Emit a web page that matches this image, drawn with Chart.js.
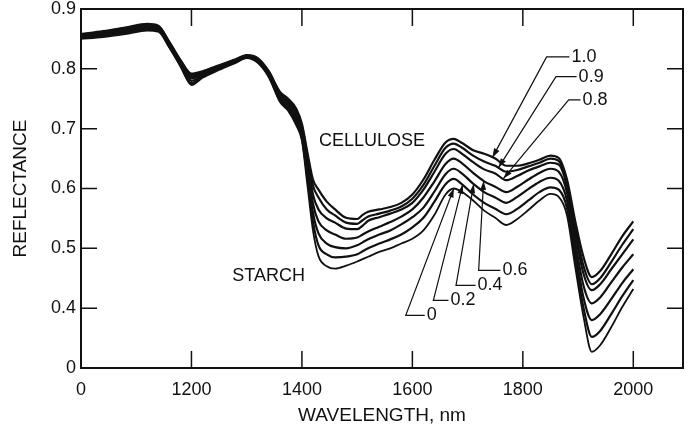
<!DOCTYPE html>
<html lang="en">
<head>
<meta charset="UTF-8">
<title>Reflectance of cellulose / starch mixtures</title>
<script src="https://cdn.jsdelivr.net/npm/chart.js"></script>
<style>
    html, body { margin: 0; padding: 0; background: #fff; }
</style>
</head>
<body>
<canvas id="chart" width="693" height="427"></canvas>
<script>
    // wavelength (nm) and reflectance for each cellulose fraction
    const wavelength = [1000,1040,1080,1120,1140,1160,1180,1200,1220,1250,1280,1300,1320,1340,1360,1375,1390,1400,1410,1420,
        1430,1445,1460,1480,1500,1510,1520,1540,1560,1580,1600,1620,1640,1660,1675,1690,1710,1730,1750,1770,
        1790,1810,1830,1850,1865,1880,1895,1910,1925,1940,1960,1980,2000];

    const r100 = [.858,.863,.869,.875,.872,.845,.815,.792,.796,.806,.816,.823,.818,.796,.762,.750,.733,.708,.660,.615,
        .598,.578,.565,.551,.549,.556,.561,.565,.569,.576,.590,.615,.648,.677,.683,.676,.664,.658,.650,.638,
        .638,.642,.648,.655,.651,.615,.545,.485,.452,.462,.490,.520,.545];
    const r90 = [.857,.862,.868,.874,.871,.844,.814,.790,.795,.805,.815,.822,.817,.795,.760,.747,.729,.704,.655,.605,
        .585,.565,.555,.543,.541,.547,.553,.558,.563,.570,.583,.606,.638,.668,.675,.668,.655,.645,.638,.628,
        .631,.637,.643,.650,.646,.610,.535,.470,.440,.450,.477,.506,.532];
    const r80 = [.856,.861,.866,.872,.870,.843,.812,.787,.793,.804,.814,.822,.816,.794,.757,.744,.724,.699,.648,.590,
        .565,.550,.543,.533,.532,.538,.546,.552,.558,.565,.576,.598,.628,.658,.666,.658,.644,.632,.625,.614,
        .621,.630,.637,.643,.640,.603,.525,.457,.430,.440,.465,.490,.515];
    const r60 = [.855,.859,.864,.870,.868,.841,.810,.784,.791,.803,.813,.821,.815,.792,.754,.740,.719,.694,.640,.575,
        .545,.530,.523,.516,.518,.523,.528,.536,.544,.553,.565,.585,.612,.641,.650,.642,.626,.612,.603,.594,
        .603,.615,.626,.633,.628,.593,.510,.437,.408,.418,.443,.468,.490];
    const r40 = [.853,.857,.862,.868,.866,.839,.808,.780,.789,.801,.812,.820,.813,.790,.751,.736,.714,.689,.630,.560,
        .525,.508,.502,.500,.505,.510,.515,.523,.530,.540,.552,.568,.595,.624,.633,.625,.608,.594,.585,.576,
        .586,.599,.611,.618,.613,.580,.495,.417,.380,.390,.415,.442,.465];
    const r20 = [.852,.855,.860,.866,.864,.837,.806,.776,.787,.800,.811,.819,.812,.788,.748,.733,.709,.684,.618,.545,
        .505,.490,.485,.486,.490,.495,.500,.508,.515,.523,.535,.551,.578,.607,.616,.607,.590,.576,.566,.557,
        .566,.580,.594,.602,.598,.567,.480,.400,.352,.362,.390,.420,.447];
    const r0 = [.850,.853,.858,.864,.862,.835,.804,.773,.785,.798,.810,.818,.810,.786,.745,.730,.705,.680,.605,.530,
        .487,.470,.466,.471,.478,.482,.486,.494,.500,.508,.516,.530,.556,.590,.600,.594,.580,.563,.551,.539,
        .549,.564,.580,.591,.586,.555,.468,.385,.327,.338,.368,.402,.432];

    const curveNames = ['1.0', '0.9', '0.8', '0.6', '0.4', '0.2', '0'];
    const curves = [r100, r90, r80, r60, r40, r20, r0];

    // axis ticks (broken axes: origin labelled 0)
    const xTickValues = [1000, 1200, 1400, 1600, 1800, 2000];
    const xTickLabels = ['0', '1200', '1400', '1600', '1800', '2000'];
    const yTickValues = [0.3, 0.4, 0.5, 0.6, 0.7, 0.8, 0.9];
    const yTickLabels = ['0', '0.4', '0.5', '0.6', '0.7', '0.8', '0.9'];
    const xMarks = [1200, 1400, 1600, 1800, 2000];
    const yMarks = [0.4, 0.5, 0.6, 0.7, 0.8];

    // callouts: label position, elbow of the leader, wavelength the arrow points at
    const labelPos = [[1888, .820], [1901, .787], [1908, .748], [1763, .463], [1718, .438], [1669, .413], [1626, .388]];
    const elbowPos = [[1843, .820], [1860, .787], [1883, .748], [1720, .463], [1679, .438], [1638, .413], [1588, .388]];
    const arrowAt = [1745, 1756, 1765, 1729, 1711, 1691, 1675];
    const names = [['CELLULOSE', 1431, .680], ['STARCH', 1274, .454]];

    const FONT = "'Liberation Sans', Arial, Helvetica, sans-serif";
    const INK = '#111';

    function valueAt(series, w) {
        for (let i = 1; i < wavelength.length; i++) {
            if (w <= wavelength[i]) {
                const t = (w - wavelength[i - 1]) / (wavelength[i] - wavelength[i - 1]);
                return series[i - 1] + t * (series[i] - series[i - 1]);
            }
        }
        return series[series.length - 1];
    }

    const frameAndNotes = {
        id: 'frameAndNotes',
        afterDatasetsDraw(chart) {
            const {ctx, chartArea: a} = chart;
            const x = chart.scales.x, y = chart.scales.y;
            ctx.save();
            ctx.strokeStyle = INK;
            ctx.lineWidth = 2;
            ctx.strokeRect(a.left, a.top, a.right - a.left, a.bottom - a.top);

            // inward tick marks on all four sides
            ctx.lineWidth = 1.5;
            ctx.beginPath();
            xMarks.forEach(v => {
                const px = x.getPixelForValue(v);
                ctx.moveTo(px, a.bottom); ctx.lineTo(px, a.bottom - 17);
                ctx.moveTo(px, a.top); ctx.lineTo(px, a.top + 17);
            });
            yMarks.forEach(v => {
                const py = y.getPixelForValue(v);
                ctx.moveTo(a.left, py); ctx.lineTo(a.left + 16, py);
                ctx.moveTo(a.right, py); ctx.lineTo(a.right - 16, py);
            });
            ctx.stroke();

            ctx.fillStyle = INK;
            ctx.font = '18px ' + FONT;
            ctx.textBaseline = 'middle';
            ctx.textAlign = 'left';
            names.forEach(n => ctx.fillText(n[0], x.getPixelForValue(n[1]), y.getPixelForValue(n[2])));

            ctx.lineWidth = 1.2;
            curveNames.forEach((name, k) => {
                const tx = x.getPixelForValue(labelPos[k][0]);
                const ty = y.getPixelForValue(labelPos[k][1]);
                const ex = x.getPixelForValue(elbowPos[k][0]);
                const ey = y.getPixelForValue(elbowPos[k][1]);
                const px = x.getPixelForValue(arrowAt[k]);
                const py = y.getPixelForValue(valueAt(curves[k], arrowAt[k]));
                ctx.beginPath();
                ctx.moveTo(tx - 2, ty);
                ctx.lineTo(ex, ey);
                ctx.lineTo(px, py);
                ctx.stroke();
                // arrow head
                const ang = Math.atan2(py - ey, px - ex);
                ctx.beginPath();
                ctx.moveTo(px, py);
                ctx.lineTo(px - 9 * Math.cos(ang) + 3 * Math.sin(ang), py - 9 * Math.sin(ang) - 3 * Math.cos(ang));
                ctx.lineTo(px - 9 * Math.cos(ang) - 3 * Math.sin(ang), py - 9 * Math.sin(ang) + 3 * Math.cos(ang));
                ctx.closePath();
                ctx.fill();
                ctx.fillText(name, tx, ty);
            });
            ctx.restore();
        }
    };

    const ctx = document.getElementById('chart').getContext('2d');
    new Chart(ctx, {
        type: 'line',
        data: {
            datasets: curveNames.map((name, k) => ({
                label: name,
                data: wavelength.map((w, i) => ({x: w, y: curves[k][i]})),
                borderColor: INK,
                borderWidth: k === 6 ? 1.8 : 2.2,
                pointRadius: 0,
                cubicInterpolationMode: 'monotone',
                fill: false
            }))
        },
        options: {
            responsive: false,
            animation: false,
            layout: {padding: {top: 9, right: 10, left: 0, bottom: 0}},
            plugins: {legend: {display: false}, tooltip: {enabled: false}},
            scales: {
                x: {
                    type: 'linear',
                    min: 1000,
                    max: 2090,
                    grid: {display: false, drawTicks: false},
                    border: {display: false},
                    afterBuildTicks: s => { s.ticks = xTickValues.map(v => ({value: v})); },
                    afterFit: s => { s.height = 59; s.paddingLeft = 0; s.paddingRight = 0; },
                    ticks: {
                        callback: (v, i) => xTickLabels[i],
                        padding: 11,
                        maxRotation: 0,
                        autoSkip: false,
                        color: INK,
                        font: {family: FONT, size: 18}
                    },
                    title: {
                        display: true,
                        text: 'WAVELENGTH, nm',
                        color: INK,
                        padding: {top: 0, bottom: 0},
                        font: {family: FONT, size: 19}
                    }
                },
                y: {
                    min: 0.3,
                    max: 0.9,
                    grid: {display: false, drawTicks: false},
                    border: {display: false},
                    afterBuildTicks: s => { s.ticks = yTickValues.map(v => ({value: v})); },
                    afterFit: s => { s.width = 81; s.paddingTop = 0; s.paddingBottom = 0; },
                    ticks: {
                        callback: (v, i) => yTickLabels[i],
                        padding: 5,
                        autoSkip: false,
                        color: INK,
                        font: {family: FONT, size: 18}
                    },
                    title: {
                        display: true,
                        text: 'REFLECTANCE',
                        color: INK,
                        padding: {top: 9, bottom: 0},
                        font: {family: FONT, size: 19}
                    }
                }
            }
        },
        plugins: [frameAndNotes]
    });
</script>
</body>
</html>
